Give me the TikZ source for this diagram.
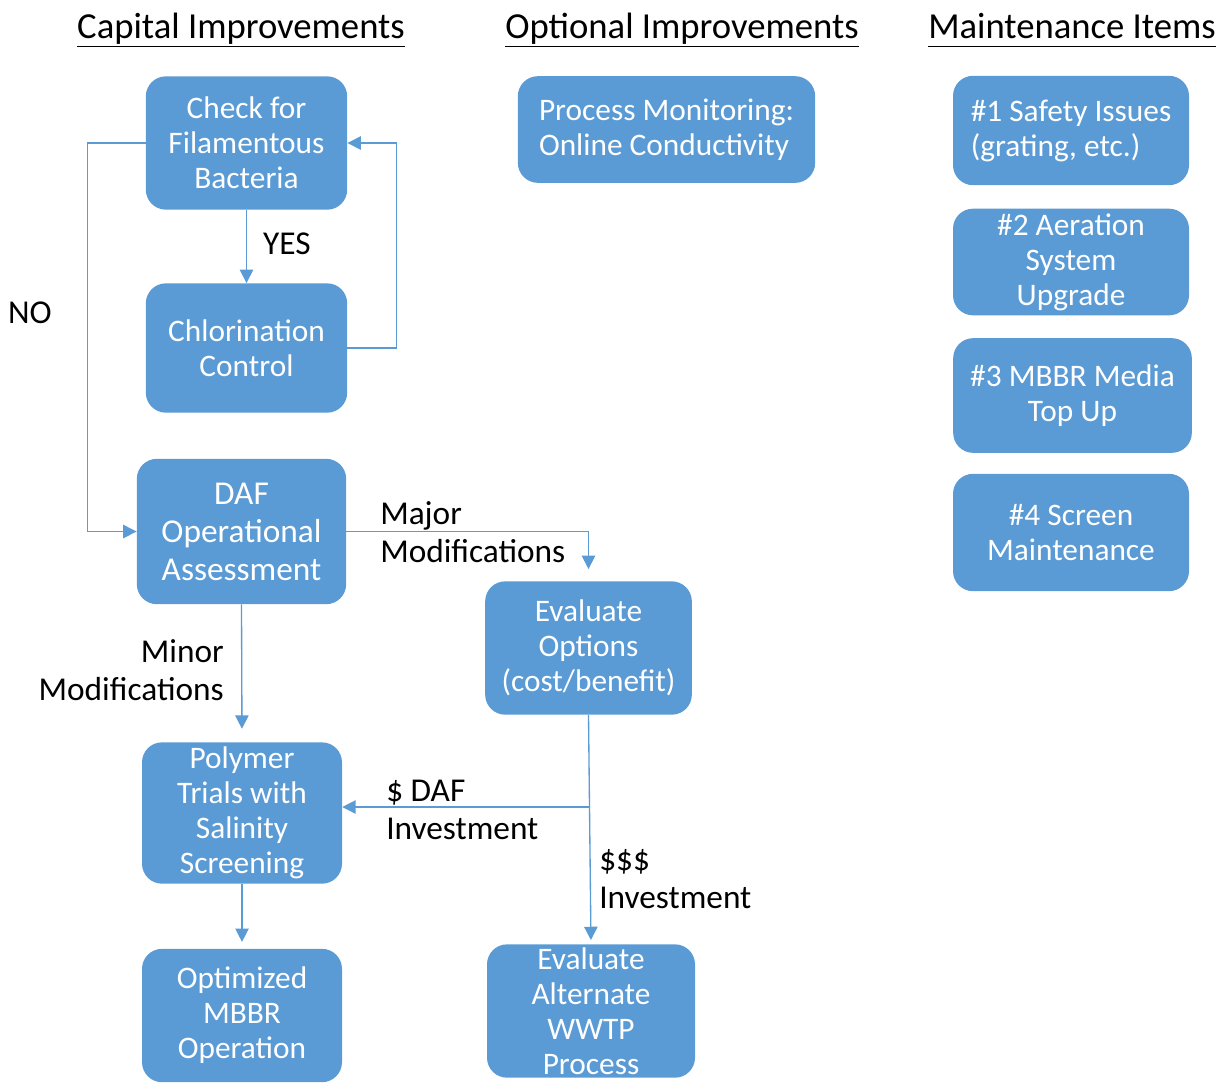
\documentclass[tikz,border=0pt]{standalone}
\usepackage{fontspec}
\setmainfont{Carlito}
\usetikzlibrary{arrows.meta,positioning}
\definecolor{flowblue}{RGB}{91,155,213}

\begin{document}
\begin{tikzpicture}[x=0.75pt,y=-0.75pt,
  box/.style={fill=flowblue,rounded corners=15pt,text=white,align=center,inner sep=0pt,
    font=\fontsize{23.5}{26.3}\selectfont},
  link/.style={draw=flowblue,line width=1pt,-{Triangle[length=10pt,width=10pt]}},
  lbl/.style={font=\fontsize{25}{28.5}\selectfont,inner sep=0pt},
  head/.style={font=\fontsize{27.5}{30}\selectfont,inner sep=0pt,anchor=base}]
\useasboundingbox (0,0) rectangle (1223,1083);
% Column headers
\node[head] (hcap) at (241,38) {\underline{Capital Improvements\vphantom{p}}};
\node[head] (hopt) at (682,38) {\underline{Optional Improvements\vphantom{p}}};
\node[head] (hmnt) at (1072,38) {\underline{Maintenance Items\vphantom{p}}};
% Capital improvements
\node[box,minimum width=151pt,minimum height=100pt] (check) at (246.5,143) {Check for\\Filamentous\\Bacteria};
\node[box,minimum width=151pt,minimum height=97pt] (chlor) at (246.5,348) {Chlorination\\Control};
\node[box,minimum width=157pt,minimum height=109pt,font=\fontsize{25}{28.5}\selectfont] (daf) at (241.5,531.5) {DAF\\Operational\\Assessment};
\node[box,minimum width=150pt,minimum height=106pt] (polymer) at (242,813) {Polymer\\Trials with\\Salinity\\Screening};
\node[box,minimum width=150pt,minimum height=100pt] (optim) at (242,1015.5) {Optimized\\MBBR\\Operation};
\node[box,minimum width=155pt,minimum height=100pt] (evalopt) at (588.5,648) {Evaluate\\Options\\(cost/benefit)};
\node[box,minimum width=156pt,minimum height=100pt] (evalalt) at (591,1011) {Evaluate\\Alternate\\WWTP\\Process};
% Optional improvements
\node[box,align=left,minimum width=223pt,minimum height=80pt] (monitor) at (666.5,129.5) {Process Monitoring:\\Online Conductivity};
% Maintenance items
\node[box,align=left,minimum width=177pt,minimum height=82pt] (mnt1) at (1071,130.5) {\#1 Safety Issues\\(grating, etc.)};
\node[box,minimum width=177pt,minimum height=80pt] (mnt2) at (1071,262) {\#2 Aeration\\System\\Upgrade};
\node[box,minimum width=179pt,minimum height=86pt] (mnt3) at (1072.5,395.5) {\#3 MBBR Media\\Top Up};
\node[box,minimum width=177pt,minimum height=88pt] (mnt4) at (1071,532.5) {\#4 Screen\\Maintenance};
% Connectors
\draw[link] (check.south) -- (chlor.north);
\draw[link] (chlor.east) -- ++(49,0) |- (check.east);
\draw[link] (check.west) -- ++(-58,0) |- (daf.west);
\draw[link,shorten >=9pt] (daf.east) -| (evalopt.north);
\draw[link,shorten >=10pt] (daf.south) -- (polymer.north);
\draw[link,shorten >=3pt] (evalopt.south) -- (evalalt.north);
\coordinate (fork) at (589,807);
\draw[link] (fork) -- (polymer.east |- fork);
\draw[link,shorten >=5pt] (polymer.south) -- (optim.north);
% Labels
\node[lbl] (yes) at (287,244) {YES};
\node[lbl] (no) at (30,313) {NO};
\node[lbl,align=left,anchor=west] (major) at (380,532) {Major\\Modifications};
\node[lbl,align=right,anchor=east] (minor) at (224,670) {Minor\\Modifications};
\node[lbl,align=left,anchor=west] (dafinv) at (386,810) {\$ DAF\\Investment};
\node[lbl,align=left,anchor=west] (bigin) at (599,879) {\$\$\$\\Investment};
\end{tikzpicture}
\end{document}
